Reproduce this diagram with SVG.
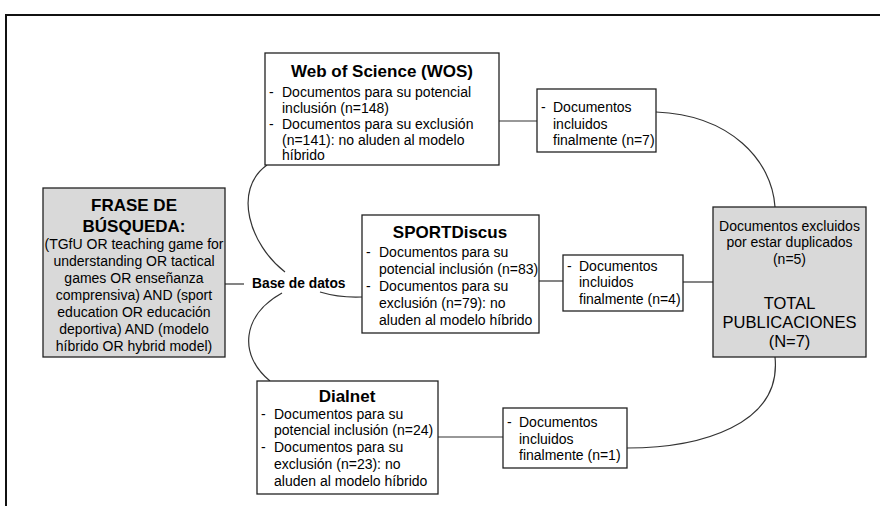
<svg xmlns="http://www.w3.org/2000/svg" width="880" height="506" viewBox="0 0 880 506">
<style>
text{font-family:"Liberation Sans",Arial,sans-serif;fill:#000}
.t{font-size:17px;font-weight:bold;text-anchor:middle}
.b{font-size:14px}
.c{font-size:14px;text-anchor:middle}
.big{font-size:16.5px;text-anchor:middle}
.box{fill:#fff;stroke:#222;stroke-width:1.3}
.gbox{fill:#d9d9d9;stroke:#222;stroke-width:1.3}
.ln{fill:none;stroke:#333;stroke-width:1.2}
</style>
<rect width="880" height="506" fill="#fff"/>
<path d="M6,506 V15 H880" fill="none" stroke="#111" stroke-width="2"/>
<g id="connectors">
<path class="ln" d="M225,284 H244"/>
<path class="ln" d="M285,272 C250,245 232,190 267,165"/>
<path class="ln" d="M282,293 C242,315 238,355 270,381"/>
<path class="ln" d="M320,292 Q340,298 362,297"/>
<path class="ln" d="M499,121 H537"/>
<path class="ln" d="M539,281 H563"/>
<path class="ln" d="M438,437 H503"/>
<path class="ln" d="M656,112 C730,115 772,160 775,207"/>
<path class="ln" d="M683,282 H713"/>
<path class="ln" d="M627,448 C700,448 782,425 775,357"/>
</g>
<g id="frase">
<rect class="gbox" x="43" y="188" width="182" height="169"/>
<text class="t" x="134" y="211">FRASE DE</text>
<text class="t" x="134" y="232">BÚSQUEDA:</text>
<text class="c" x="134" y="249">(TGfU OR teaching game for</text>
<text class="c" x="134" y="266">understanding OR tactical</text>
<text class="c" x="134" y="283">games OR enseñanza</text>
<text class="c" x="134" y="300">comprensiva) AND (sport</text>
<text class="c" x="134" y="317">education OR educación</text>
<text class="c" x="134" y="334">deportiva) AND (modelo</text>
<text class="c" x="134" y="351">híbrido OR hybrid model)</text>
</g>
<g id="base">
<text x="252" y="288" style="font-size:13.8px;font-weight:bold">Base de datos</text>
</g>
<g id="wos">
<rect class="box" x="265" y="53" width="234" height="112"/>
<text class="t" x="382" y="77">Web of Science (WOS)</text>
<text class="b" x="269" y="97">-</text>
<text class="b" x="282" y="97">Documentos para su potencial</text>
<text class="b" x="282" y="113">inclusión (n=148)</text>
<text class="b" x="269" y="129">-</text>
<text class="b" x="282" y="129">Documentos para su exclusión</text>
<text class="b" x="282" y="145">(n=141): no aluden al modelo</text>
<text class="b" x="282" y="160">híbrido</text>
</g>
<g id="wos-inc">
<rect class="box" x="537" y="89" width="119" height="63"/>
<text class="b" x="541" y="112">-</text>
<text class="b" x="553" y="112">Documentos</text>
<text class="b" x="553" y="129">incluidos</text>
<text class="b" x="553" y="145">finalmente (n=7)</text>
</g>
<g id="sport">
<rect class="box" x="362" y="215" width="177" height="118"/>
<text class="t" x="450" y="238">SPORTDiscus</text>
<text class="b" x="366" y="257">-</text>
<text class="b" x="379" y="257">Documentos para su</text>
<text class="b" x="379" y="274">potencial inclusión (n=83)</text>
<text class="b" x="366" y="291">-</text>
<text class="b" x="379" y="291">Documentos para su</text>
<text class="b" x="379" y="308">exclusión (n=79): no</text>
<text class="b" x="379" y="325">aluden al modelo híbrido</text>
</g>
<g id="sport-inc">
<rect class="box" x="563" y="255" width="120" height="56"/>
<text class="b" x="567" y="271">-</text>
<text class="b" x="579" y="271">Documentos</text>
<text class="b" x="579" y="287">incluidos</text>
<text class="b" x="579" y="304">finalmente (n=4)</text>
</g>
<g id="dialnet">
<rect class="box" x="257" y="381" width="181" height="113"/>
<text class="t" x="347" y="402">Dialnet</text>
<text class="b" x="261" y="419">-</text>
<text class="b" x="274" y="419">Documentos para su</text>
<text class="b" x="274" y="435">potencial inclusión (n=24)</text>
<text class="b" x="261" y="452">-</text>
<text class="b" x="274" y="452">Documentos para su</text>
<text class="b" x="274" y="469">exclusión (n=23): no</text>
<text class="b" x="274" y="486">aluden al modelo híbrido</text>
</g>
<g id="dialnet-inc">
<rect class="box" x="503" y="408" width="124" height="60"/>
<text class="b" x="507" y="427">-</text>
<text class="b" x="519" y="427">Documentos</text>
<text class="b" x="519" y="444">incluidos</text>
<text class="b" x="519" y="460">finalmente (n=1)</text>
</g>
<g id="total">
<rect class="gbox" x="713" y="207" width="153" height="150"/>
<text class="c" x="789.5" y="231">Documentos excluidos</text>
<text class="c" x="789.5" y="247">por estar duplicados</text>
<text class="c" x="789.5" y="264">(n=5)</text>
<text class="big" x="789.5" y="309">TOTAL</text>
<text class="big" x="789.5" y="328">PUBLICACIONES</text>
<text class="big" x="789.5" y="347">(N=7)</text>
</g>
</svg>
